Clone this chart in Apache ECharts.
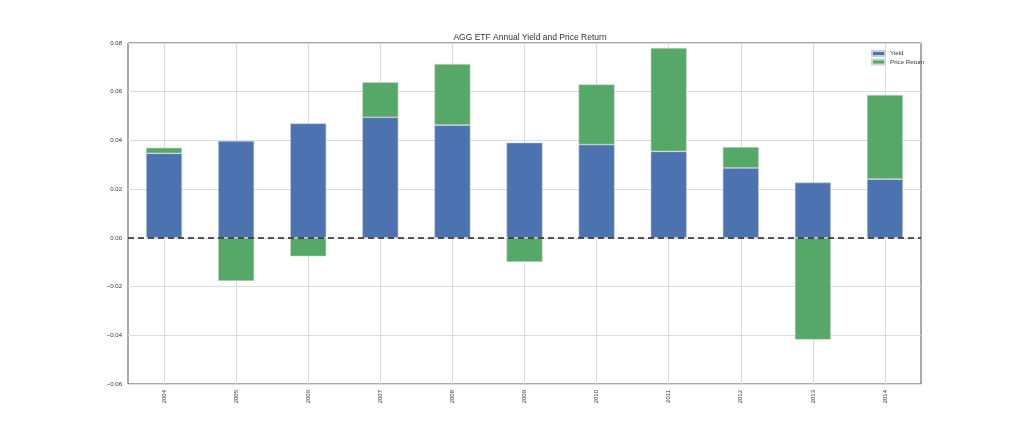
<!DOCTYPE html>
<html>
<head>
<meta charset="utf-8">
<script src="https://cdn.jsdelivr.net/npm/echarts@6/dist/echarts.min.js"></script>
<style>
html,body{margin:0;padding:0;background:#fff;}
#chart{width:1024px;height:427px;}
</style>
</head>
<body>
<div id="chart"></div>
<script>
const years = ['2004','2005','2006','2007','2008','2009','2010','2011','2012','2013','2014'];
const yieldVals = [0.0347,0.0398,0.0470,0.0495,0.0463,0.0391,0.0383,0.0355,0.0287,0.0227,0.0241];
const priceReturn = [0.0023,-0.0177,-0.0076,0.0144,0.0251,-0.0099,0.0247,0.0425,0.0086,-0.0418,0.0346];
const yTicks = {min:-0.06, max:0.08, interval:0.02};

const chart = echarts.init(document.getElementById('chart'), null, {renderer:'canvas'});
const font = 'Liberation Sans';
chart.setOption({
  animation:false,
  backgroundColor:'#fff',
  title:{
    text:'AGG ETF Annual Yield and Price Return',
    left:525, top:28, textAlign:'center',
    textStyle:{fontFamily:font,fontSize:8.5,fontWeight:'normal',color:'#333'}
  },
  legend:{
    orient:'vertical', left:866, top:45, itemWidth:13, itemHeight:5, itemGap:1.5,
    textStyle:{fontFamily:font,fontSize:6.2,color:'#333'},
    icon:'rect',
    data:['Yield','Price Return']
  },
  grid:{left:128,top:43,width:793,height:341,show:true,borderColor:'#555',borderWidth:1,backgroundColor:'transparent'},
  xAxis:{
    type:'category', data:years,
    axisLine:{show:false}, axisTick:{show:false,alignWithLabel:true},
    splitLine:{show:true,alignWithLabel:true,lineStyle:{color:'#dcdcdc',width:1}},
    axisLabel:{rotate:90,fontFamily:font,fontSize:6,color:'#333',margin:6,interval:0}
  },
  yAxis:{
    type:'value', min:yTicks.min, max:yTicks.max, interval:yTicks.interval,
    axisLine:{show:false}, axisTick:{show:false},
    splitLine:{show:true,lineStyle:{color:'#dcdcdc',width:1}},
    axisLabel:{fontFamily:font,fontSize:6,color:'#333',margin:6,
      formatter:v=>{const s=Math.abs(v).toFixed(2);return v<-1e-9?'\u2212'+s:s;}}
  },
  series:[
    {name:'Yield',type:'bar',stack:'t',data:yieldVals,barWidth:'50%',
     itemStyle:{color:'#4C72B0',borderColor:'#c8cdd8',borderWidth:0.6},
     markLine:{silent:true,symbol:'none',label:{show:false},
       lineStyle:{color:'#222',type:[6,4],width:1.5},data:[{yAxis:0}]}
    },
    {name:'Price Return',type:'bar',stack:'t',data:priceReturn,barWidth:'50%',
     itemStyle:{color:'#55A868',borderColor:'#cfd8d0',borderWidth:0.6}}
  ]
});
</script>
</body>
</html>
